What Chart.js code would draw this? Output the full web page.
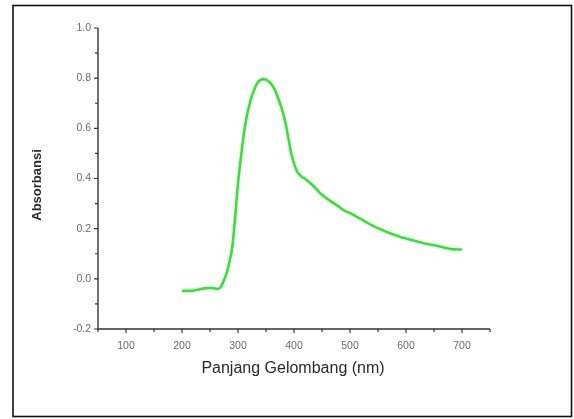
<!DOCTYPE html>
<html>
<head>
<meta charset="utf-8">
<script src="https://cdn.jsdelivr.net/npm/chart.js@4/dist/chart.umd.min.js"></script>
<style>
html,body{margin:0;padding:0;background:#fff;}
#wrap{position:relative;width:574px;height:419px;}
</style>
</head>
<body>
<div id="wrap"><canvas id="c" width="574" height="419"></canvas></div>
<script>
const wavelengths = [200,210,220,230,240,250,260,265,270,275,280,285,290,295,300,305,310,315,320,325,330,335,340,345,350,355,360,365,370,375,380,385,390,395,400,405,410,415,420,430,440,450,460,470,480,490,500,510,520,530,540,550,560,570,580,590,600,610,620,630,640,650,660,670,680,690,700];
const absorbance = [-0.048,-0.048,-0.047,-0.043,-0.038,-0.036,-0.039,-0.040,-0.030,-0.005,0.025,0.07,0.13,0.25,0.38,0.48,0.57,0.64,0.69,0.73,0.76,0.782,0.792,0.796,0.795,0.787,0.775,0.757,0.73,0.70,0.665,0.62,0.56,0.50,0.46,0.43,0.415,0.405,0.398,0.38,0.358,0.335,0.318,0.303,0.288,0.272,0.262,0.25,0.238,0.225,0.212,0.202,0.192,0.183,0.175,0.167,0.161,0.155,0.149,0.143,0.138,0.134,0.129,0.124,0.119,0.117,0.117];
const xTicks = [100,200,300,400,500,600,700];
const yTicks = [-0.2,0.0,0.2,0.4,0.6,0.8,1.0];
const xTitle = 'Panjang Gelombang (nm)';
const yTitle = 'Absorbansi';

const points = wavelengths.map((x,i)=>({x:x,y:absorbance[i]}));

const framePlugin = {
  id:'frame',
  afterDraw(chart){
    const ctx = chart.ctx;
    ctx.save();
    ctx.strokeStyle = '#111';
    ctx.lineWidth = 1.6;
    ctx.strokeRect(13,5.5,558.5,411);
    const xs = chart.scales.x, ys = chart.scales.y;
    const ca = chart.chartArea;
    ctx.strokeStyle = '#333';
    ctx.lineWidth = 1.4;
    ctx.beginPath();
    ctx.moveTo(ca.left, ca.top); ctx.lineTo(ca.left, ca.bottom); ctx.lineTo(ca.right, ca.bottom);
    ctx.stroke();
    ctx.lineWidth = 1.2;
    ctx.beginPath();
    for (let v=50; v<=750; v+=50){
      const px = xs.getPixelForValue(v);
      const len = (v%100===0)?4:3;
      ctx.moveTo(px, ca.bottom); ctx.lineTo(px, ca.bottom+len);
    }
    for (let k=-2; k<=10; k++){
      const v = k/10;
      const py = ys.getPixelForValue(v);
      const len = (k%2===0)?4:3;
      ctx.moveTo(ca.left, py); ctx.lineTo(ca.left-len, py);
    }
    ctx.stroke();
    // axis titles
    ctx.fillStyle = '#2a2a2a';
    ctx.textAlign = 'center';
    ctx.textBaseline = 'middle';
    ctx.font = '16px "Liberation Sans", Arial, sans-serif';
    ctx.fillText(xTitle, 293, 369);
    ctx.translate(37, 185);
    ctx.rotate(-Math.PI/2);
    ctx.font = 'bold 13px "Liberation Sans", Arial, sans-serif';
    ctx.fillText(yTitle, 0, 0);
    ctx.restore();
  }
};

new Chart(document.getElementById('c'), {
  type:'line',
  data:{datasets:[{
    data:points,
    borderColor:'#2ee62e',
    borderWidth:2.6,
    pointRadius:0,
    fill:false,
    tension:0.4,
    cubicInterpolationMode:'monotone'
  }]},
  options:{
    responsive:false,
    animation:false,
    devicePixelRatio:1,
    layout:{padding:{left:0,top:28,right:84,bottom:0}},
    plugins:{legend:{display:false},tooltip:{enabled:false}},
    scales:{
      x:{
        type:'linear', min:50, max:750,
        afterBuildTicks(s){ s.ticks = xTicks.map(v=>({value:v})); },
        afterFit(s){ s.height = 90; },
        grid:{display:false, drawTicks:false},
        border:{display:false},
        ticks:{color:'#6a6a6a', font:{family:'Liberation Sans, Arial', size:10.5}, padding:11, maxRotation:0, autoSkip:false},
        title:{display:false}
      },
      y:{
        type:'linear', min:-0.2, max:1.0,
        afterBuildTicks(s){ s.ticks = yTicks.map(v=>({value:v})); },
        afterFit(s){ s.width = 98; },
        grid:{display:false, drawTicks:false},
        border:{display:false},
        ticks:{color:'#6a6a6a', font:{family:'Liberation Sans, Arial', size:10.5}, padding:7, autoSkip:false,
          callback:(v)=>Number(v).toFixed(1)},
        title:{display:false}
      }
    }
  },
  plugins:[framePlugin]
});
</script>
</body>
</html>
